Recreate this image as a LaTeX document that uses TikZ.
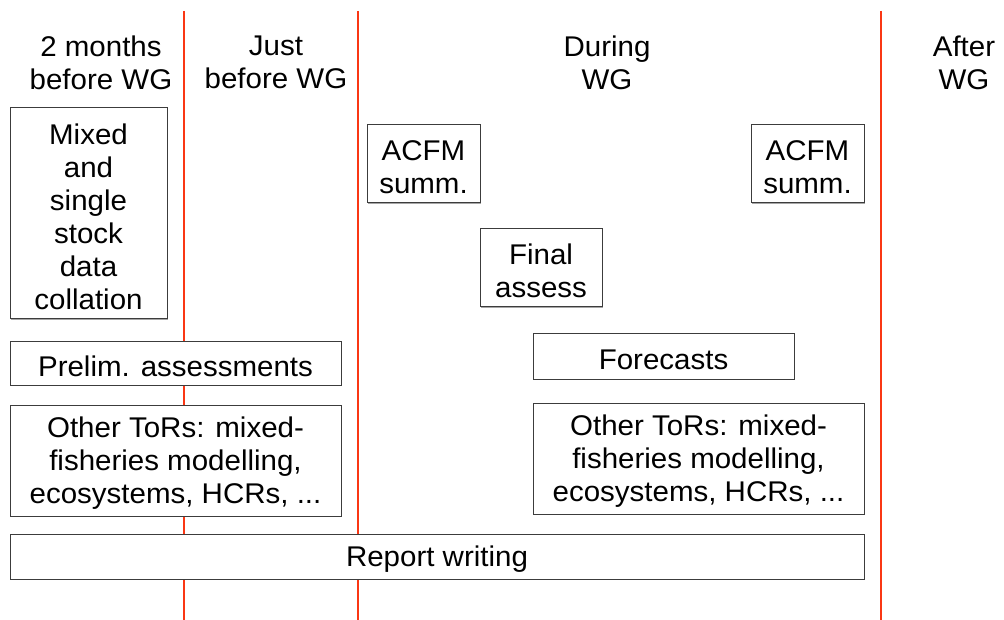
\documentclass[tikz,border=0pt]{standalone}
\usepackage{fontspec}
\setmainfont[FakeStretch=1.035]{Liberation Sans}
\usetikzlibrary{shadows}
\definecolor{tline}{RGB}{250,55,20}
\definecolor{bordr}{RGB}{60,60,60}
\tikzset{
  lbl/.style={font=\fontsize{28.5}{33}\selectfont, align=center, inner sep=0pt},
  tbox/.style={draw=bordr, line width=1pt, fill=white, inner sep=0pt,
    drop shadow={shadow xshift=1.2pt, shadow yshift=-1.2pt, fill=black!35, opacity=1}},
  phase/.style={draw=tline, line width=2.8pt}
}
\newcommand{\tb}[6]{% name, x1, y1, x2, y2, text
  \node[tbox, minimum width={#4-#2}, minimum height={#5-#3},
    label={[lbl, yshift=-3pt]center:#6}] (#1) at ({(#2+#4)/2},{(#3+#5)/2}) {};}
\begin{document}
\begin{tikzpicture}[x=1pt,y=-1pt]
\useasboundingbox (0,0) rectangle (1004,620);
\fill[white] (0,0) rectangle (1004,620);
% phase separators
\coordinate (l1t) at (184,11); \coordinate (l1b) at (184,620);
\coordinate (l2t) at (358,11); \coordinate (l2b) at (358,620);
\coordinate (l3t) at (881,11); \coordinate (l3b) at (881,620);
\draw[phase] (l1t) -- (l1b);
\draw[phase] (l2t) -- (l2b);
\draw[phase] (l3t) -- (l3b);
% headers
\node[lbl] (h1) at (101,62.5) {2 months\\before WG};
\node[lbl] (h2) at (276,62.5) {Just\\before WG};
\node[lbl] (h3) at (607,62.5) {During\\WG};
\node[lbl] (h4) at (964,62.5) {After\\WG};
% boxes
\tb{mixed}{10}{108}{167}{319}{Mixed\\and\\single\\stock\\data\\collation}
\tb{prelim}{10}{341}{341}{385}{Prelim. assessments}
\tb{torsA}{10}{405}{341}{516}{Other ToRs: mixed-\\fisheries modelling,\\ecosystems, HCRs, ...}
\tb{report}{10}{534}{864}{579}{Report writing}
\tb{acfmA}{367}{125}{480}{203}{ACFM\\summ.}
\tb{final}{480}{229}{602}{307}{Final\\assess}
\tb{acfmB}{751}{125}{864}{203}{ACFM\\summ.}
\tb{fore}{533}{334}{794}{379}{Forecasts}
\tb{torsB}{533}{403}{864}{514}{Other ToRs: mixed-\\fisheries modelling,\\ecosystems, HCRs, ...}
\end{tikzpicture}
\end{document}
